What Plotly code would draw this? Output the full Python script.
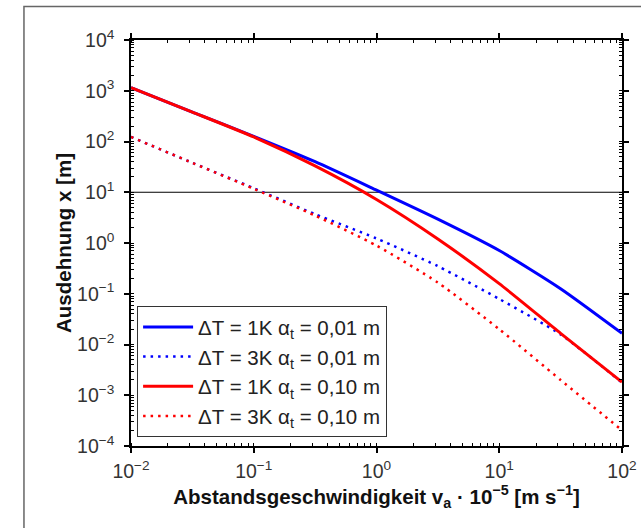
import plotly.graph_objects as go

# ---- data ----
velocity = [0.01, 0.0316, 0.1, 0.316, 1, 3.16, 10, 31.6, 100]
dT1_a001 = [1150, 380, 126, 40, 11, 2.95, 0.71, 0.126, 0.0166]
dT3_a001 = [123, 38, 12, 3.7, 1.23, 0.35, 0.079, 0.0158, 0.00178]
dT1_a010 = [1150, 380, 123, 33, 7.2, 1.2, 0.158, 0.0166, 0.00182]
dT3_a010 = [123, 38, 11.7, 3.47, 0.89, 0.166, 0.02, 0.002, 0.000204]

series_names = [
    "ΔT = 1K α<sub>t</sub> = 0,01 m",
    "ΔT = 3K α<sub>t</sub> = 0,01 m",
    "ΔT = 1K α<sub>t</sub> = 0,10 m",
    "ΔT = 3K α<sub>t</sub> = 0,10 m",
]
reference_level = 10

x_tickvals = [0.01, 0.1, 1, 10, 100]
x_ticktext = ["10<sup>−2</sup>", "10<sup>−1</sup>", "10<sup>0</sup>", "10<sup>1</sup>", "10<sup>2</sup>"]
y_tickvals = [1e-4, 1e-3, 1e-2, 1e-1, 1, 10, 100, 1e3, 1e4]
y_ticktext = ["10<sup>−4</sup>", "10<sup>−3</sup>", "10<sup>−2</sup>", "10<sup>−1</sup>",
              "10<sup>0</sup>", "10<sup>1</sup>", "10<sup>2</sup>", "10<sup>3</sup>", "10<sup>4</sup>"]

FONT = "Arial, Liberation Sans, sans-serif"
BLUE = "#0000ff"
RED = "#ff0000"

fig = go.Figure()
styles = [
    (dT1_a001, BLUE, "solid", 3),
    (dT3_a001, BLUE, "2.5px,5px", 2.5),
    (dT1_a010, RED, "solid", 3),
    (dT3_a010, RED, "2.5px,5px", 2.5),
]
for i, (ys, col, dash, w) in enumerate(styles):
    fig.add_trace(go.Scatter(
        x=velocity, y=ys, mode="lines", name=series_names[i],
        legendgroup=f"g{i}",
        line=dict(color=col, dash=dash, width=w, shape="spline", smoothing=0.6),
    ))

fig.add_shape(type="line", xref="paper", x0=0, x1=1, yref="y",
              y0=reference_level, y1=reference_level,
              line=dict(color="black", width=1.2), layer="below")

# outer frame
fig.add_shape(type="rect", xref="paper", yref="paper",
              x0=-0.218, x1=1.2, y0=-0.4, y1=1.0824,
              line=dict(color="#666666", width=1.5))

axis_common = dict(
    type="log", showgrid=False, zeroline=False, automargin=False,
    showline=True, linecolor="black", linewidth=1.5, mirror="ticks",
    ticks="outside", ticklen=5, tickwidth=1.5, tickcolor="black",
    tickfont=dict(family=FONT, size=19.5, color="#333333"),
    minor=dict(dtick="D1", ticks="inside", ticklen=3, tickcolor="black", tickwidth=1, showgrid=False),
)

fig.update_layout(
    width=641, height=528,
    margin=dict(l=131, r=19, t=40, b=82),
    paper_bgcolor="white", plot_bgcolor="white",
    font=dict(family=FONT, color="black"),
    showlegend=True,
    legend=dict(
        x=0.012, y=0.345, xanchor="left", yanchor="top",
        bordercolor="#333333", borderwidth=1.2, bgcolor="white",
        font=dict(family=FONT, size=20.5, color="#222222"),
        tracegroupgap=0, itemwidth=50,
    ),
    xaxis=dict(
        axis_common, range=[-2, 2], tickvals=x_tickvals, ticktext=x_ticktext,
        ticklabelstandoff=2,
        title=dict(text="<b>Abstandsgeschwindigkeit v<sub>a</sub> · 10<sup>−5</sup> [m s<sup>−1</sup>]</b>",
                   font=dict(family=FONT, size=20.5, color="#111111"), standoff=6),
    ),
    yaxis=dict(
        axis_common, range=[-4, 4], tickvals=y_tickvals, ticktext=y_ticktext,
        ticklabelstandoff=6,
        title=dict(text="<b>Ausdehnung x [m]</b>",
                   font=dict(family=FONT, size=20.5, color="#111111"), standoff=0),
    ),
)

fig.write_html("out.html", config={"displayModeBar": False},
               post_script="document.body.style.margin='0';document.body.style.overflow='hidden';")
